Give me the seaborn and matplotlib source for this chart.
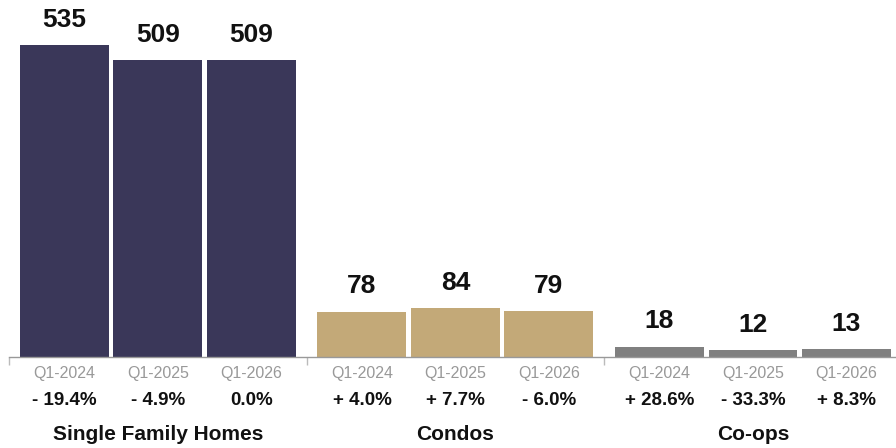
import matplotlib
matplotlib.use("Agg")
import matplotlib.pyplot as plt
import seaborn as sns
import pandas as pd

categories = ["Single Family Homes", "Condos", "Co-ops"]
quarters = ["Q1-2024", "Q1-2025", "Q1-2026"]
counts = {
    "Single Family Homes": [535, 509, 509],
    "Condos": [78, 84, 79],
    "Co-ops": [18, 12, 13],
}
changes = {
    "Single Family Homes": [-19.4, -4.9, 0.0],
    "Condos": [4.0, 7.7, -6.0],
    "Co-ops": [28.6, -33.3, 8.3],
}
colors = {
    "Single Family Homes": "#3a3759",
    "Condos": "#c3a978",
    "Co-ops": "#808080",
}

rows = []
for c in categories:
    for q, v, ch in zip(quarters, counts[c], changes[c]):
        rows.append({"category": c, "quarter": q, "count": v, "change": ch})
df = pd.DataFrame(rows)

sns.set_style("white")
plt.rcParams["font.family"] = ["Liberation Sans", "DejaVu Sans"]

fig = plt.figure(figsize=(8.96, 4.48), dpi=100)
ax = fig.add_axes([9 / 896, (448 - 357) / 448, 887 / 896, 357 / 448])

for c in categories:
    sub = df[df["category"] == c]
    sns.barplot(data=sub, x="category", y="count", hue="quarter",
                order=categories, hue_order=quarters,
                palette=[colors[c]] * 3, width=0.942, gap=0.048,
                saturation=1, legend=False, ax=ax, errorbar=None,
                linewidth=0, edgecolor="none")

# group separators as ticks on the baseline
ax.set_xticks([-0.5, 0.5, 1.5])
ax.set_xticklabels([])
ax.set_yticks([])
ax.set_ylim(0, 612)
ax.set_xlim(-0.5, -0.5 + 887 / 297.6)
ax.set_xlabel("")
ax.set_ylabel("")
ax.tick_params(axis="x", direction="out", length=6, width=1, color="#bbbbbb",
               bottom=True)
for s in ["left", "right", "top"]:
    ax.spines[s].set_visible(False)
ax.spines["bottom"].set_color("#999999")
ax.spines["bottom"].set_linewidth(1)

bars = sorted([p for p in ax.patches if p.get_height() > 0], key=lambda p: p.get_x())


def fmt(v):
    if v > 0:
        return f"+ {v:.1f}%"
    if v < 0:
        return f"- {abs(v):.1f}%"
    return f"{v:.1f}%"


for p, (_, r) in zip(bars, df.iterrows()):
    xc = p.get_x() + p.get_width() / 2
    ax.annotate(f"{r['count']}", (xc, r["count"]), xytext=(0, 13),
                textcoords="offset points", ha="center", va="baseline",
                fontsize=19, fontweight="bold", color="#111111")
    ax.annotate(r["quarter"], (xc, 0), xycoords=("data", "axes fraction"),
                xytext=(0, -11.6), textcoords="offset points",
                ha="center", va="center", fontsize=11.5, color="#999999")
    ax.annotate(fmt(r["change"]), (xc, 0), xycoords=("data", "axes fraction"),
                xytext=(0, -31.2), textcoords="offset points",
                ha="center", va="center", fontsize=13.5, fontweight="bold",
                color="#111111")

for i, c in enumerate(categories):
    ax.annotate(c, (i, 0), xycoords=("data", "axes fraction"),
                xytext=(0, -55.5), textcoords="offset points",
                ha="center", va="center", fontsize=15, fontweight="bold",
                color="#111111", annotation_clip=False)

fig.savefig("out.png", dpi=100)
